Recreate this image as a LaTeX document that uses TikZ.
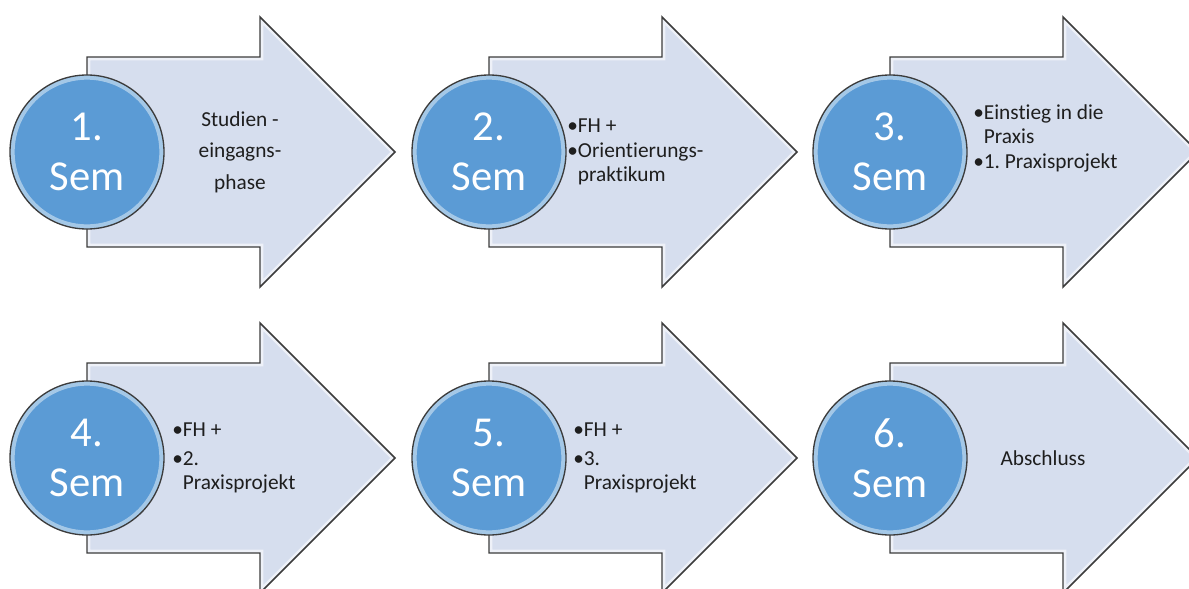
\documentclass[tikz,border=0pt]{standalone}
\usepackage{fontspec}
\setmainfont{Carlito}[RawFeature={-liga;-clig;-calt;-dlig;-rlig}]
\definecolor{circleblue}{RGB}{91,155,213}
\definecolor{arrowfill}{RGB}{214,222,238}
\definecolor{edgegray}{RGB}{60,60,60}
\definecolor{labeltext}{RGB}{30,30,30}
\tikzset{
  arrowbody/.style={draw=edgegray, line width=1.1pt, line join=miter},
  semcircle/.style={circle, minimum size=115.5pt, inner sep=0pt, fill=circleblue,
    draw=edgegray, line width=1pt, text=white, align=center,
    font=\fontsize{32}{37.5}\selectfont,
    path picture={\draw[white, opacity=.45, line width=7pt]
      (path picture bounding box.center) circle (57.75pt);}},
  steplabel/.style={text=labeltext, font=\fontsize{16}{18}\selectfont, inner sep=0pt},
}
\newcommand\arrowpath[2]{({#1},{#2-95}) -- ({#1+173},{#2-95}) -- ({#1+173},{#2-135}) -- ({#1+308},{#2})
      -- ({#1+173},{#2+135}) -- ({#1+173},{#2+95}) -- ({#1},{#2+95}) -- cycle}
\newcommand\arrowshape[2]{%
  \fill[arrowfill] \arrowpath{#1}{#2};
  \begin{scope}
    \clip \arrowpath{#1}{#2};
    \draw[white, opacity=.6, line width=5pt] \arrowpath{#1}{#2};
  \end{scope}
  \draw[arrowbody] \arrowpath{#1}{#2};
}
\begin{document}
\frenchspacing
\begin{tikzpicture}[x=0.75pt,y=-0.75pt]
\useasboundingbox (0,0) rectangle (1189,589);
\clip (0,0) rectangle (1189,589);
% arrows
\foreach \cx/\cy in {87/152, 489/152, 890/152, 87/458, 489/458, 890/458}{
  \arrowshape{\cx}{\cy}
}
% circles
\node[semcircle] (c1) at (87,152) {1.\\Sem};
\node[semcircle] (c2) at (489,152) {2.\\Sem};
\node[semcircle] (c3) at (890,152) {3.\\Sem};
\node[semcircle] (c4) at (87,458) {4.\\Sem};
\node[semcircle] (c5) at (489,458) {5.\\Sem};
\node[semcircle] (c6) at (890,458) {6.\\Sem};
% labels
\node[steplabel, align=center, font=\fontsize{16}{23.5}\selectfont] (t1) at (240,152) {Studien -\\eingagns-\\phase};
\node[steplabel, anchor=west] (t2) at (567,152) {\begin{tabular}{@{}l@{}l@{}}•&FH +\\[1pt] •&Orient\kern0pt ierungs-\\ &praktikum\end{tabular}};
\node[steplabel, anchor=west] (t3) at (973,139) {\begin{tabular}{@{}l@{}l@{}}•&Einst\kern0pt ieg in die\\ &Praxis\\[1pt] •&1. Praxisprojekt\end{tabular}};
\node[steplabel, anchor=west] (t4) at (172,458) {\begin{tabular}{@{}l@{}l@{}}•&FH +\\[4pt] •&2.\\ &Praxisprojekt\end{tabular}};
\node[steplabel, anchor=west] (t5) at (573,458) {\begin{tabular}{@{}l@{}l@{}}•&FH +\\[4pt] •&3.\\ &Praxisprojekt\end{tabular}};
\node[steplabel] (t6) at (1043,458) {Abschluss};
\end{tikzpicture}
\end{document}
